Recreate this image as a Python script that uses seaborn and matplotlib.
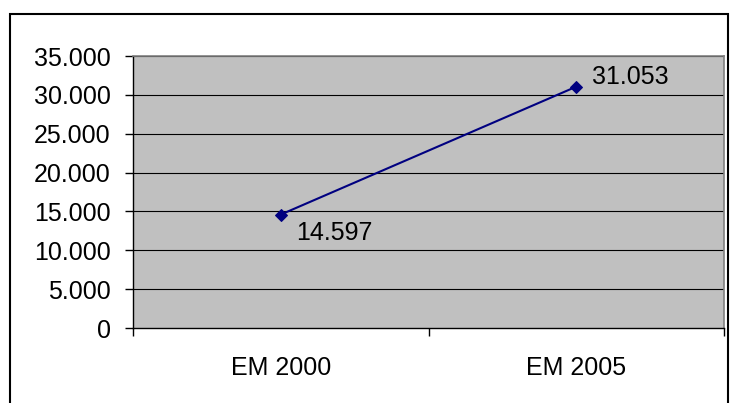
import matplotlib
matplotlib.use("Agg")
import matplotlib.pyplot as plt
from matplotlib.patches import Rectangle
from matplotlib.ticker import FuncFormatter
import seaborn as sns
import pandas as pd

categories = ["EM 2000", "EM 2005"]
values = [14597, 31053]
y_ticks = [0, 5000, 10000, 15000, 20000, 25000, 30000, 35000]

sns.set_style("white")
plt.rcParams["font.family"] = ["Liberation Sans", "DejaVu Sans"]
plt.rcParams["text.color"] = "black"
plt.rcParams["xtick.labelcolor"] = "black"
plt.rcParams["ytick.labelcolor"] = "black"

df = pd.DataFrame({"periodo": categories, "valor": values})


def br_fmt(v):
    return f"{int(round(v)):,}".replace(",", ".")


FS = 18

fig = plt.figure(figsize=(7.30, 4.03), dpi=100)
ax = fig.add_axes([133 / 730, 1 - 328 / 403, (724 - 133) / 730, (328 - 56) / 403])
ax.set_facecolor("#C0C0C0")

sns.lineplot(data=df, x="periodo", y="valor", ax=ax, color="#000080",
             linewidth=1.5, marker="D", markersize=6.5,
             markeredgecolor="#000080", markerfacecolor="#000080", zorder=5)

ax.set_xlim(-0.5, 1.5)
ax.set_ylim(0, 35000)
ax.set_yticks(y_ticks)
ax.yaxis.set_major_formatter(FuncFormatter(lambda v, p: br_fmt(v)))
ax.set_xticks([0, 1])
ax.set_xticklabels(categories)
ax.set_xticks([-0.5, 0.5, 1.5], minor=True)
ax.tick_params(axis="x", which="major", length=0, pad=20, labelsize=FS, labelcolor="black")
ax.tick_params(axis="x", which="minor", length=6, width=1, direction="out", color="black", bottom=True)
ax.tick_params(axis="y", length=6, width=1, direction="out", pad=10, labelsize=FS,
               left=True, color="black", labelcolor="black")
ax.set_xlabel("")
ax.set_ylabel("")

for y in y_ticks[1:]:
    ax.axhline(y, color="black", linewidth=0.8, zorder=1)

for side in ("left", "bottom"):
    ax.spines[side].set_color("black")
    ax.spines[side].set_linewidth(1)
for side in ("top", "right"):
    ax.spines[side].set_color("#808080")
    ax.spines[side].set_linewidth(1.2)

# value labels next to each point
offsets = [(11, -13), (11, 7)]
for i, (v, off) in enumerate(zip(values, offsets)):
    ax.annotate(br_fmt(v), xy=(i, v), xytext=off, textcoords="offset points",
                ha="left", va="center", fontsize=FS, color="black", zorder=6)

# outer chart frame
fig.patches.append(Rectangle((10 / 730, -0.1), (728 - 10) / 730, 1.1 - 14 / 403,
                             transform=fig.transFigure, fill=False,
                             edgecolor="black", linewidth=1.5, clip_on=False))

fig.savefig("out.png", dpi=100)
